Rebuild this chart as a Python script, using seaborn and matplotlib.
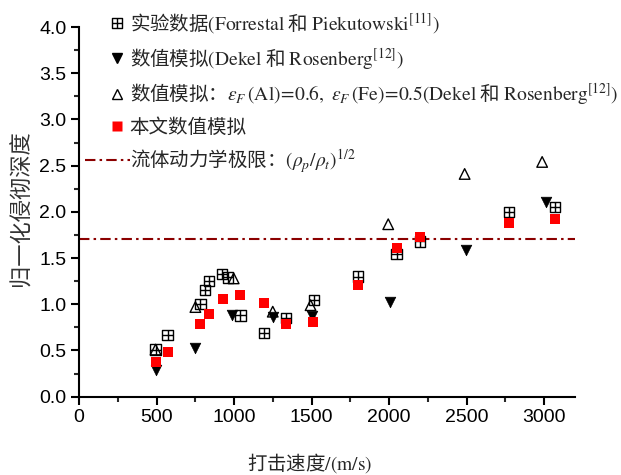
import numpy as np
import pandas as pd
import matplotlib
matplotlib.use("Agg")
import matplotlib.pyplot as plt
import seaborn as sns
from matplotlib.path import Path
from matplotlib.lines import Line2D
from matplotlib.legend_handler import HandlerLine2DCompound
from matplotlib.ticker import MultipleLocator, FormatStrFormatter

# ---------------- data ----------------
exp_v = [494, 571, 783, 815, 837, 923, 960, 1041, 1192, 1336, 1515, 1800, 2049, 2200, 2775, 3072]
exp_d = [0.51, 0.67, 1.00, 1.155, 1.255, 1.33, 1.29, 0.88, 0.69, 0.85, 1.05, 1.30, 1.545, 1.68, 2.00, 2.056]

sim_v = [494, 746, 988, 1250, 1504, 2006, 2499, 3010]
sim_d = [0.29, 0.53, 0.88, 0.86, 0.87, 1.03, 1.59, 2.11]

eps_v = [494, 751, 998, 1250, 1494, 1995, 2488, 2988]
eps_d = [0.51, 0.97, 1.28, 0.92, 0.99, 1.866, 2.41, 2.54]

our_v = [494, 572, 778, 837, 929, 1037, 1192, 1336, 1511, 1800, 2049, 2200, 2775, 3072]
our_d = [0.38, 0.48, 0.79, 0.90, 1.057, 1.10, 1.01, 0.79, 0.81, 1.21, 1.61, 1.725, 1.877, 1.92]

limit_value = 1.71

labels = [
    r'实验数据$\mathrm{(Forrestal}$ 和 $\mathrm{Piekutowski}^{[11]}\mathrm{)}$',
    r'数值模拟$\mathrm{(Dekel}$ 和 $\mathrm{Rosenberg}^{[12]}\mathrm{)}$',
    r'数值模拟：$\varepsilon_F\,\mathrm{(Al)}\!=\!\mathrm{0.6,}\ \varepsilon_F\,\mathrm{(Fe)}\!=\!\mathrm{0.5(Dekel}$ 和 $\mathrm{Rosenberg}^{[12]}\mathrm{)}$',
    r'本文数值模拟',
    r'流体动力学极限：$(\rho_p/\rho_t)^{1/2}$',
]
xlabel = r'打击速度$\mathrm{/(m/s)}$'
ylabel = '归一化侵彻深度'

# ---------------- style ----------------
sns.set_theme(style="ticks")
plt.rcParams['font.family'] = ['Liberation Sans', 'Noto Sans CJK SC', 'DejaVu Sans']
plt.rcParams['mathtext.fontset'] = 'stix'

fig = plt.figure(figsize=(6.21, 4.75), dpi=100)
ax = fig.add_axes([79 / 621, 1 - 396.7 / 475, (575 - 79) / 621, (396.7 - 27) / 475])

# custom "boxed plus" marker
verts = [(-1, -1), (1, -1), (1, 1), (-1, 1), (-1, -1),
         (0, -1), (0, 1), (-1, 0), (1, 0)]
codes = [Path.MOVETO, Path.LINETO, Path.LINETO, Path.LINETO, Path.CLOSEPOLY,
         Path.MOVETO, Path.LINETO, Path.MOVETO, Path.LINETO]
boxplus = Path(verts, codes)

df_exp = pd.DataFrame({'v': exp_v, 'd': exp_d})
df_sim = pd.DataFrame({'v': sim_v, 'd': sim_d})
df_eps = pd.DataFrame({'v': eps_v, 'd': eps_d})
df_our = pd.DataFrame({'v': our_v, 'd': our_d})

ax.axhline(limit_value, color='#8B0000', lw=1.5, ls=(0, (5, 2, 1.2, 2)), zorder=1)

sns.scatterplot(data=df_sim, x='v', y='d', marker='v', s=58, color='black',
                edgecolor='black', linewidth=0.5, ax=ax, zorder=3)
sns.scatterplot(data=df_eps, x='v', y='d', marker='^', s=58, facecolor='none',
                edgecolor='black', linewidth=1.0, ax=ax, zorder=3)
sns.scatterplot(data=df_exp, x='v', y='d', marker=boxplus, s=55, facecolor='none',
                edgecolor='black', linewidth=1.0, ax=ax, zorder=4)
sns.scatterplot(data=df_our, x='v', y='d', marker='s', s=52, color='red',
                edgecolor='none', linewidth=0, ax=ax, zorder=5)

ax.set_xlim(0, 3200)
ax.set_ylim(0, 4.0)
ax.xaxis.set_major_locator(MultipleLocator(500))
ax.xaxis.set_minor_locator(MultipleLocator(250))
ax.yaxis.set_major_locator(MultipleLocator(0.5))
ax.yaxis.set_minor_locator(MultipleLocator(0.25))
ax.yaxis.set_major_formatter(FormatStrFormatter('%.1f'))

for sp in ['top', 'right']:
    ax.spines[sp].set_visible(False)
for sp in ['left', 'bottom']:
    ax.spines[sp].set_linewidth(1.5)
    ax.spines[sp].set_color('black')
ax.tick_params(axis='both', which='major', direction='out', length=6, width=1.5,
               labelsize=14, colors='black', pad=3)
ax.tick_params(axis='both', which='minor', direction='out', length=3.5, width=1.5)
for lab in ax.get_xticklabels() + ax.get_yticklabels():
    lab.set_fontfamily('Liberation Sans')

ax.set_xlabel(xlabel, fontsize=14, family='Noto Sans CJK SC')
ax.xaxis.set_label_coords(0.466, -0.148)
ax.set_ylabel(ylabel, fontsize=16, family='Noto Sans CJK SC', color='#333333')
ax.yaxis.set_label_coords(-0.094, 0.51)


class MarkerRight(HandlerLine2DCompound):
    def get_xdata(self, legend, xdescent, ydescent, width, height, fontsize):
        xdata = np.array([-xdescent, -xdescent + width])
        xdata_marker = np.array([-xdescent + 0.72 * width])
        return xdata, xdata_marker


handles = [
    Line2D([], [], ls='none', marker=boxplus, ms=7.0, mfc='none', mec='black', mew=1.0),
    Line2D([], [], ls='none', marker='v', ms=7.5, mfc='black', mec='black'),
    Line2D([], [], ls='none', marker='^', ms=7.5, mfc='none', mec='black', mew=1.0),
    Line2D([], [], ls='none', marker='s', ms=7.2, mfc='red', mec='none'),
    Line2D([], [], color='#8B0000', lw=1.5, ls=(0, (5, 2, 1.2, 2))),
]
hmap = {h: MarkerRight() for h in handles[:4]}
leg = fig.legend(handles, labels, loc='upper left',
                 bbox_to_anchor=(85 / 621, 1 - 11 / 475), bbox_transform=fig.transFigure,
                 frameon=False, borderpad=0, borderaxespad=0, handlelength=2.3,
                 handletextpad=0.0, labelspacing=0.5,
                 prop={'family': 'Noto Sans CJK SC', 'size': 14},
                 handler_map=hmap)

fig.savefig('out.png', dpi=100)
